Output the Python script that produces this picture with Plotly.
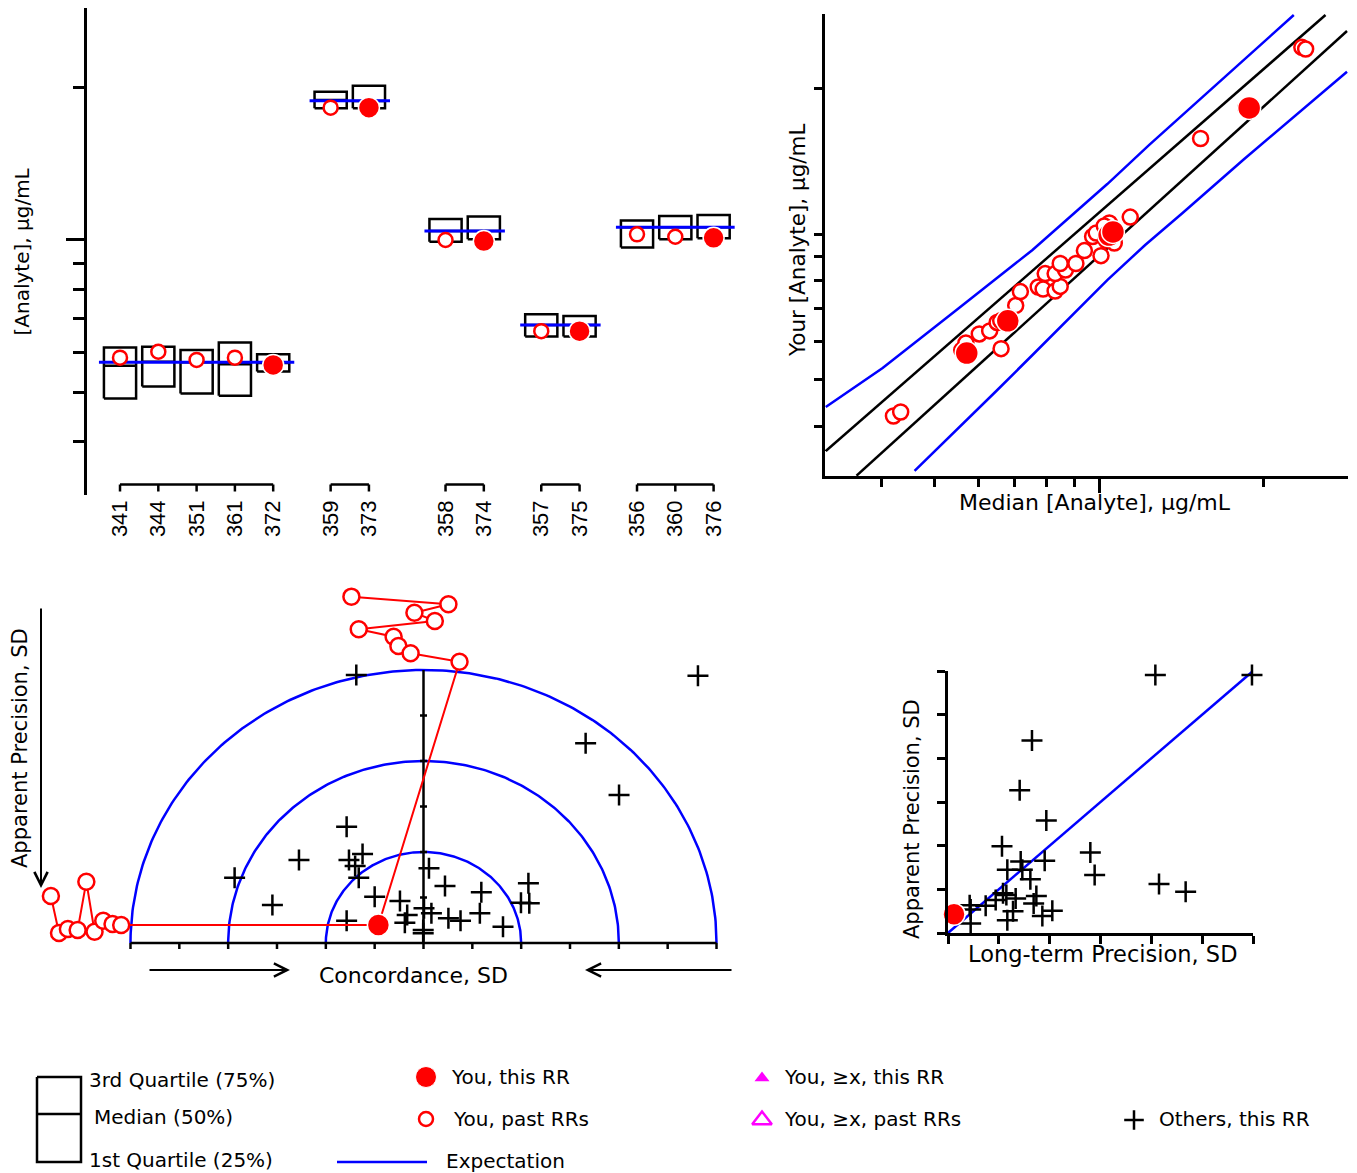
import numpy as np
import plotly.graph_objects as go

# page body has an 8 px margin: the figure is made 8 px smaller so that it fills the window exactly
OFF = 8
W, H = 1357, 1173
FW, FH = W - OFF, H - OFF
FONT = "DejaVu Sans, Liberation Sans, Arial, sans-serif"
TICKFONT = "Liberation Sans, Arial, sans-serif"
RED = "#ff0000"
BLUE = "#0000ff"
MAGENTA = "#ff00ff"

# ---------------- Panel 1: quartile boxes per round-robin ----------------
rr_ids = ["341", "344", "351", "361", "372", "359", "373", "358", "374", "357", "375", "356", "360", "376"]
rr_group = [0, 0, 0, 0, 0, 1, 1, 2, 2, 3, 3, 4, 4, 4]
q1 = [4.87, 5.14, 4.98, 4.93, 5.50, 18.19, 18.19, 9.92, 10.03, 6.45, 6.45, 9.66, 10.03, 10.08]
med = [5.65, 5.75, 5.74, 5.69, 5.72, 18.89, 18.80, 10.42, 10.42, 6.80, 6.80, 10.59, 10.59, 10.59]
q3 = [6.14, 6.16, 6.07, 6.28, 5.95, 19.61, 20.15, 11.00, 11.12, 7.14, 7.08, 10.92, 11.15, 11.20]
you = [5.86, 6.02, 5.80, 5.86, 5.67, 18.24, 18.24, 10.00, 9.95, 6.61, 6.61, 10.26, 10.15, 10.10]
is_this_rr = [False, False, False, False, True, False, True, False, True, False, True, False, False, True]
expectation = [5.74, 18.83, 10.42, 6.80, 10.59]
conc_ticks = [4, 5, 6, 7, 8, 9, 10, 20]

# ---------------- Panel 2: your value vs median ----------------
past_median = [4.20, 4.33, 6.03, 6.30, 6.50, 6.60, 6.61, 7.03, 7.17, 7.73, 7.89, 8.30, 8.48, 7.96, 8.30,
               8.67, 8.48, 9.06, 9.39, 10.07, 9.72, 9.87, 10.43, 10.65, 10.28, 11.39, 15.32, 23.47, 23.85,
               18.54, 5.60, 5.70, 10.21]
past_yours = [4.20, 4.28, 6.21, 6.30, 6.56, 6.61, 5.79, 7.11, 7.60, 7.77, 7.69, 7.62, 7.79, 8.28, 8.28,
              8.42, 8.69, 8.69, 9.24, 9.02, 9.88, 10.05, 10.54, 9.58, 9.72, 10.84, 15.77, 24.35, 24.15,
              18.24, 5.75, 5.95, 10.39]
upper_black_x = [3.158, 25.93]
upper_black_y = [3.553, 28.40]
lower_black_x = [3.595, 28.39]
lower_black_y = [3.160, 26.32]
upper_blue_x = [3.158, 4.013, 5.507, 7.545, 10.34, 12.34, 22.69]
upper_blue_y = [4.383, 5.279, 6.994, 9.267, 12.69, 15.29, 28.40]
lower_blue_x = [4.591, 5.507, 6.450, 7.545, 8.846, 10.34, 12.13, 14.20, 18.39, 28.39]
lower_blue_y = [3.232, 3.947, 4.709, 5.617, 6.713, 8.030, 9.489, 11.05, 14.28, 21.68]

# ---------------- Panel 3: concordance / apparent precision ----------------
ring_sd = [1, 2, 3]
others_conc = [-0.688, 2.810, 1.660, 2.002, -0.787, -0.624, -0.763, -0.700, -0.663, -1.275, -1.934, -1.547,
               0.056, 0.220, 0.592, 1.074, 0.998, 1.083, -0.500, -0.241, 0.005, 0.081, -0.167, -0.191,
               -0.787, 0.255, 0.379, 0.577, 0.814, -0.003, -0.003]
others_app = [2.945, 2.937, 2.195, 1.626, 1.278, 0.978, 0.912, 0.846, 0.718, 0.912, 0.718, 0.418,
              0.821, 0.626, 0.557, 0.656, 0.443, 0.436, 0.509, 0.462, 0.381, 0.326, 0.308, 0.223,
              0.245, 0.271, 0.245, 0.326, 0.179, 0.143, 0.107]
past_left_conc = [-3.815, -3.732, -3.641, -3.541, -3.452, -3.368, -3.279, -3.184, -3.095]
past_left_app = [0.516, 0.110, 0.154, 0.143, 0.674, 0.124, 0.245, 0.209, 0.198]
past_top_conc = [-0.738, 0.255, -0.093, 0.116, -0.663, -0.306, -0.257, -0.132, 0.369]
past_top_app = [3.806, 3.722, 3.630, 3.538, 3.447, 3.366, 3.264, 3.184, 3.091]
you_conc, you_app = -0.462, 0.198

# ---------------- Panel 4: long-term vs apparent precision ----------------
others_ltp = [4.079, 5.980, 1.652, 1.410, 1.934, 1.062, 2.800, 1.430, 1.902, 1.167, 1.462, 1.620, 2.885,
              4.151, 4.675, 1.082, 1.148, 0.938, 1.331, 1.738, 1.685, 0.741, 0.446, 1.279, 2.052, 1.856,
              1.167, 0.446, 0.426]
others_aps = [5.908, 5.908, 4.408, 3.269, 2.577, 1.985, 1.846, 1.638, 1.654, 1.446, 1.446, 1.231, 1.331,
              1.123, 0.946, 0.908, 0.869, 0.754, 0.792, 0.846, 0.677, 0.623, 0.538, 0.500, 0.508, 0.392,
              0.292, 0.215, 0.638]
you_ltp, you_aps = 0.118, 0.431
prec_max = 6

legend_labels = ["3rd Quartile (75%)", "Median (50%)", "1st Quartile (25%)", "You, this RR", "You, past RRs",
                 "Expectation", "You, \u2265x, this RR", "You, \u2265x, past RRs", "Others, this RR"]


def fx(p):
    return (p - OFF) / FW


def fy(p):
    return 1 - (p - OFF) / FH


fig = go.Figure()

# ---------- panel 1 geometry ----------
GROUP_GAP = [1.5, 2.0, 1.5, 1.5]
pos = []
cur = 0.0
for i, g in enumerate(rr_group):
    if i > 0:
        cur += 1.0 if g == rr_group[i - 1] else GROUP_GAP[rr_group[i - 1]]
    pos.append(cur)
BOX_HALF = 0.42
EXP_EXT = 0.55
Y1_RANGE = [0.497, 1.4576]
Y1_PIX = 487.0
ppd1 = Y1_PIX / (Y1_RANGE[1] - Y1_RANGE[0])

bx, by = [], []
for p, a, m, b in zip(pos, q1, med, q3):
    l, r = p - BOX_HALF, p + BOX_HALF
    bx += [l, r, r, l, l, None, l, r, None]
    by += [a, a, b, b, a, None, m, m, None]
fig.add_trace(go.Scatter(x=bx, y=by, mode="lines", line=dict(color="black", width=2.5),
                         xaxis="x", yaxis="y", showlegend=False, hoverinfo="skip"))

ex, ey = [], []
for g, e in enumerate(expectation):
    ps = [p for p, gg in zip(pos, rr_group) if gg == g]
    ex += [ps[0] - EXP_EXT, ps[-1] + EXP_EXT, None]
    ey += [e, e, None]
fig.add_trace(go.Scatter(x=ex, y=ey, mode="lines", line=dict(color=BLUE, width=3),
                         xaxis="x", yaxis="y", showlegend=False, hoverinfo="skip"))

# group brackets under the boxes
br_top = 10 ** (Y1_RANGE[0] + 10.5 / ppd1)
br_bot = 10 ** (Y1_RANGE[0] + 3.5 / ppd1)
kx, ky = [], []
for g in range(len(expectation)):
    ps = [p for p, gg in zip(pos, rr_group) if gg == g]
    kx += [ps[0], ps[-1], None]
    ky += [br_top, br_top, None]
    for p in ps:
        kx += [p, p, None]
        ky += [br_top, br_bot, None]
fig.add_trace(go.Scatter(x=kx, y=ky, mode="lines", line=dict(color="black", width=2.5),
                         xaxis="x", yaxis="y", showlegend=False, hoverinfo="skip"))

px_ = [p for p, t in zip(pos, is_this_rr) if not t]
py_ = [v for v, t in zip(you, is_this_rr) if not t]
fig.add_trace(go.Scatter(x=px_, y=py_, mode="markers",
                         marker=dict(symbol="circle", size=14, color="white", line=dict(color=RED, width=2.5)),
                         xaxis="x", yaxis="y", showlegend=False, cliponaxis=False))
tx_ = [p for p, t in zip(pos, is_this_rr) if t]
ty_ = [v for v, t in zip(you, is_this_rr) if t]
fig.add_trace(go.Scatter(x=tx_, y=ty_, mode="markers",
                         marker=dict(symbol="circle", size=21, color=RED, line=dict(color="white", width=1.5)),
                         xaxis="x", yaxis="y", showlegend=False, cliponaxis=False))

# ---------- panel 2 ----------
fig.add_trace(go.Scatter(x=upper_blue_x, y=upper_blue_y, mode="lines", line=dict(color=BLUE, width=2.5),
                         xaxis="x2", yaxis="y2", showlegend=False, hoverinfo="skip"))
fig.add_trace(go.Scatter(x=lower_blue_x, y=lower_blue_y, mode="lines", line=dict(color=BLUE, width=2.5),
                         xaxis="x2", yaxis="y2", showlegend=False, hoverinfo="skip"))
fig.add_trace(go.Scatter(x=upper_black_x, y=upper_black_y, mode="lines", line=dict(color="black", width=2.5),
                         xaxis="x2", yaxis="y2", showlegend=False, hoverinfo="skip"))
fig.add_trace(go.Scatter(x=lower_black_x, y=lower_black_y, mode="lines", line=dict(color="black", width=2.5),
                         xaxis="x2", yaxis="y2", showlegend=False, hoverinfo="skip"))
fig.add_trace(go.Scatter(x=past_median, y=past_yours, mode="markers",
                         marker=dict(symbol="circle", size=15, color="white", line=dict(color=RED, width=2.5)),
                         xaxis="x2", yaxis="y2", showlegend=False, cliponaxis=False))
this_med = [m for m, t in zip(med, is_this_rr) if t]
fig.add_trace(go.Scatter(x=this_med, y=ty_, mode="markers",
                         marker=dict(symbol="circle", size=23, color=RED, line=dict(color="white", width=1.5)),
                         xaxis="x2", yaxis="y2", showlegend=False, cliponaxis=False))

# ---------- panel 3 ----------
X3_RANGE = [(20 - 423.5) / 97.67, (745 - 423.5) / 97.67]
Y3_RANGE = [(943 - 955) / 91.0, (943 - 585) / 91.0]
y3_ppu = 370.0 / (Y3_RANGE[1] - Y3_RANGE[0])
x3_ppu = 725.0 / (X3_RANGE[1] - X3_RANGE[0])
theta = np.linspace(0, np.pi, 241)
for r in ring_sd:
    fig.add_trace(go.Scatter(x=r * np.cos(theta), y=r * np.sin(theta), mode="lines",
                             line=dict(color=BLUE, width=2.5), xaxis="x3", yaxis="y3",
                             showlegend=False, hoverinfo="skip"))
rmax = max(ring_sd)
ax_x, ax_y = [-rmax, rmax, None, 0, 0, None], [0, 0, None, 0, rmax, None]
for v in np.arange(-rmax, rmax + 0.01, 0.5):
    ax_x += [v, v, None]
    ax_y += [0, -6 / y3_ppu, None]
for v in np.arange(0.5, rmax, 0.5):
    ax_x += [-3.5 / x3_ppu, 3.5 / x3_ppu, None]
    ax_y += [v, v, None]
fig.add_trace(go.Scatter(x=ax_x, y=ax_y, mode="lines", line=dict(color="black", width=2.5),
                         xaxis="x3", yaxis="y3", showlegend=False, hoverinfo="skip"))
fig.add_trace(go.Scatter(x=others_conc, y=others_app, mode="markers",
                         marker=dict(symbol="cross-thin", size=15, color="black", line=dict(color="black", width=2.5)),
                         xaxis="x3", yaxis="y3", showlegend=False, cliponaxis=False))
path_x = past_left_conc + [you_conc] + past_top_conc[::-1]
path_y = past_left_app + [you_app] + past_top_app[::-1]
fig.add_trace(go.Scatter(x=path_x, y=path_y, mode="lines", line=dict(color=RED, width=2),
                         xaxis="x3", yaxis="y3", showlegend=False, hoverinfo="skip"))
fig.add_trace(go.Scatter(x=past_left_conc + past_top_conc, y=past_left_app + past_top_app, mode="markers",
                         marker=dict(symbol="circle", size=16, color="white", line=dict(color=RED, width=2.5)),
                         xaxis="x3", yaxis="y3", showlegend=False, cliponaxis=False))
fig.add_trace(go.Scatter(x=[you_conc], y=[you_app], mode="markers",
                         marker=dict(symbol="circle", size=22, color=RED, line=dict(color="white", width=1.5)),
                         xaxis="x3", yaxis="y3", showlegend=False, cliponaxis=False))

# ---------- panel 4 ----------
fig.add_trace(go.Scatter(x=[0, prec_max], y=[0, prec_max], mode="lines", line=dict(color=BLUE, width=2.5),
                         xaxis="x4", yaxis="y4", showlegend=False, hoverinfo="skip"))
fig.add_trace(go.Scatter(x=others_ltp, y=others_aps, mode="markers",
                         marker=dict(symbol="cross-thin", size=15, color="black", line=dict(color="black", width=2.5)),
                         xaxis="x4", yaxis="y4", showlegend=False, cliponaxis=False))
fig.add_trace(go.Scatter(x=[you_ltp], y=[you_aps], mode="markers",
                         marker=dict(symbol="circle", size=22, color=RED, line=dict(color="white", width=1.5)),
                         xaxis="x4", yaxis="y4", showlegend=False, cliponaxis=False))

# ---------- legend (drawn on its own invisible axes, in window pixels) ----------
LG = dict(box_l=37, box_r=81, box_t=1077, box_m=1114, box_b=1162,
          sym_x1=426, sym_x2=762, sym_x3=1134, row1=1078, row2=1120, row3=1162,
          line_l=337, line_r=427)
fig.add_trace(go.Scatter(
    x=[LG["box_l"], LG["box_r"], LG["box_r"], LG["box_l"], LG["box_l"], None, LG["box_l"], LG["box_r"]],
    y=[LG["box_t"], LG["box_t"], LG["box_b"], LG["box_b"], LG["box_t"], None, LG["box_m"], LG["box_m"]],
    mode="lines", line=dict(color="black", width=2.5), xaxis="x5", yaxis="y5", showlegend=False, hoverinfo="skip"))
fig.add_trace(go.Scatter(x=[LG["line_l"], LG["line_r"]], y=[LG["row3"], LG["row3"]], mode="lines",
                         line=dict(color=BLUE, width=2.5), xaxis="x5", yaxis="y5", showlegend=False, hoverinfo="skip"))
fig.add_trace(go.Scatter(x=[LG["sym_x1"]], y=[LG["row1"] - 1], mode="markers",
                         marker=dict(symbol="circle", size=21, color=RED, line=dict(color="white", width=1)),
                         xaxis="x5", yaxis="y5", showlegend=False, cliponaxis=False))
fig.add_trace(go.Scatter(x=[LG["sym_x1"]], y=[LG["row2"] - 1], mode="markers",
                         marker=dict(symbol="circle", size=14, color="white", line=dict(color=RED, width=2.5)),
                         xaxis="x5", yaxis="y5", showlegend=False, cliponaxis=False))
fig.add_trace(go.Scatter(x=[LG["sym_x2"]], y=[LG["row1"]], mode="markers",
                         marker=dict(symbol="triangle-up", size=13, color=MAGENTA),
                         xaxis="x5", yaxis="y5", showlegend=False, cliponaxis=False))
fig.add_trace(go.Scatter(x=[LG["sym_x2"]], y=[LG["row2"]], mode="markers",
                         marker=dict(symbol="triangle-up-open", size=17, color=MAGENTA, line=dict(color=MAGENTA, width=2.5)),
                         xaxis="x5", yaxis="y5", showlegend=False, cliponaxis=False))
fig.add_trace(go.Scatter(x=[LG["sym_x3"]], y=[LG["row2"]], mode="markers",
                         marker=dict(symbol="cross-thin", size=14, color="black", line=dict(color="black", width=2.5)),
                         xaxis="x5", yaxis="y5", showlegend=False, cliponaxis=False))

legend_text_pos = [(87, 1080), (92, 1117), (87, 1160), (449, 1077), (451, 1119), (444, 1161),
                   (782, 1077), (782, 1119), (1157, 1119)]
annotations = []
for txt, (lx, ly) in zip(legend_labels, legend_text_pos):
    annotations.append(dict(text=txt, x=lx, y=ly, xref="x5", yref="y5", xanchor="left", yanchor="middle",
                            showarrow=False, font=dict(size=20, color="black", family=FONT)))

# axis titles
titles = [
    ("[Analyte], \u00b5g/mL", 22, 251.5, -90, 20),
    ("Median [Analyte], \u00b5g/mL", 1095, 503, 0, 22),
    ("Your [Analyte], \u00b5g/mL", 797, 240, -90, 21.5),
    ("Concordance, SD", 413, 975, 0, 22),
    ("Apparent Precision, SD", 20, 748, -90, 21),
    ("Long-term Precision, SD", 1102, 954, 0, 22.5),
    ("Apparent Precision, SD", 912, 819, -90, 21),
]
for txt, tx, ty, ang, sz in titles:
    annotations.append(dict(text=txt, x=fx(tx), y=fy(ty), xref="paper", yref="paper", xanchor="center",
                            yanchor="middle", textangle=ang, showarrow=False,
                            font=dict(size=sz, color="black", family=FONT)))

# direction arrows of the concordance panel
for (hx, hy, tx, ty) in [(290, 970, 148, 970), (585, 970, 733, 970), (41, 888, 41, 607)]:
    annotations.append(dict(x=fx(hx), y=fy(hy), xref="paper", yref="paper", ax=tx - hx, ay=ty - hy,
                            axref="pixel", ayref="pixel", showarrow=True, arrowhead=5, arrowsize=1.3,
                            arrowwidth=2, arrowcolor="black", text=""))

noaxis = dict(visible=False, showgrid=False, zeroline=False)
log_tick = dict(ticks="outside", tickcolor="black", tickwidth=2.5, showticklabels=False,
                showgrid=False, zeroline=False, showline=True, linecolor="black", linewidth=2.5)

fig.update_layout(
    width=FW, height=FH, margin=dict(l=0, r=0, t=0, b=0),
    paper_bgcolor="white", plot_bgcolor="white",
    font=dict(family=FONT, color="black"),
    showlegend=False,
    xaxis=dict(domain=[fx(87), fx(745)], range=[-0.862, 16.32], anchor="y", showgrid=False, zeroline=False,
               showline=False, tickmode="array", tickvals=pos, ticktext=rr_ids, tickangle=-90, ticks="",
               tickfont=dict(size=22, family=TICKFONT), ticklabelstandoff=0),
    yaxis=dict(domain=[fy(495), fy(8)], type="log", range=Y1_RANGE, anchor="x",
               tickmode="array", tickvals=[10], ticklen=18,
               minor=dict(tickmode="array", tickvals=[t for t in conc_ticks if t != 10], ticklen=11,
                          tickwidth=2.5, tickcolor="black", ticks="outside", showgrid=False),
               **log_tick),
    xaxis2=dict(domain=[fx(825), fx(1348)], type="log", range=[0.498, 1.455], anchor="y2",
                tickmode="array", tickvals=[10], ticklen=14,
                minor=dict(tickmode="array", tickvals=[t for t in conc_ticks if t != 10], ticklen=8,
                           tickwidth=2.5, tickcolor="black", ticks="outside", showgrid=False),
                **log_tick),
    yaxis2=dict(domain=[fy(476), fy(14)], type="log", range=[0.499, 1.4555], anchor="x2",
                tickmode="array", tickvals=conc_ticks, ticklen=8, **log_tick),
    xaxis3=dict(domain=[fx(20), fx(745)], range=X3_RANGE, anchor="y3", **noaxis),
    yaxis3=dict(domain=[fy(955), fy(585)], range=Y3_RANGE, anchor="x3", **noaxis),
    xaxis4=dict(domain=[fx(948), fx(1253)], range=[0, prec_max], anchor="y4", tickmode="linear", tick0=0,
                dtick=1, ticklen=8, **log_tick),
    yaxis4=dict(domain=[fy(933), fy(671)], range=[0, prec_max], anchor="x4", tickmode="linear", tick0=0,
                dtick=1, ticklen=8, **log_tick),
    xaxis5=dict(domain=[0, 1], range=[OFF, W], anchor="y5", **noaxis),
    yaxis5=dict(domain=[0, fy(1040)], range=[H, 1040], anchor="x5", **noaxis),
    annotations=annotations,
)

fig.write_html("out.html")
